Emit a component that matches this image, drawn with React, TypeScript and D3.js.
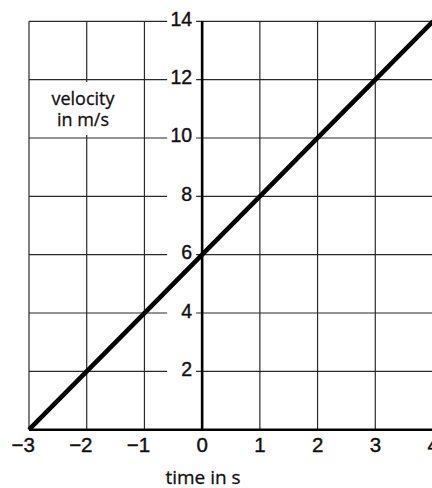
import React from "react";
import * as d3 from "d3";

// Velocity–time samples (straight line through the grid intersections)
const times: number[] = [-3, -2, -1, 0, 1, 2, 3, 4];
const velocities: number[] = [0, 2, 4, 6, 8, 10, 12, 14];

const xTicks: number[] = [-3, -2, -1, 0, 1, 2, 3, 4];
const yTicks: number[] = [2, 4, 6, 8, 10, 12, 14];

const xLabel = "time in s";
const yLabelLines: string[] = ["velocity", "in m/s"];

const W = 432;
const H = 488;

const numFont = "'Liberation Sans', Arial, Helvetica, sans-serif";
const textFont = "'Open Sans', 'Noto Sans', sans-serif";

export default function App() {
  const x = d3.scaleLinear().domain([-3, 4]).range([29, 433]);
  const y = d3.scaleLinear().domain([0, 14]).range([429.7, 21.3]);

  const line = d3
    .line<number>()
    .x((_, i) => x(times[i]))
    .y((d) => y(d));

  const gridColor = "#2a2a2a";
  const x0 = x(0);
  const y0 = y(0);
  const yTop = y(14);
  const xLeft = x(-3);
  const xRight = x(4);

  const fmt = (v: number) => (v < 0 ? "\u2212" + Math.abs(v) : String(v));

  return (
    <div style={{ position: "absolute", left: 0, top: 0 }}>
      <svg width={W} height={H} viewBox={`0 0 ${W} ${H}`} style={{ display: "block", background: "#fff" }}>
        {/* vertical grid lines */}
        {xTicks
          .filter((t) => t !== 0)
          .map((t) => (
            <line
              key={"vx" + t}
              x1={x(t)}
              x2={x(t)}
              y1={y0}
              y2={yTop}
              stroke={gridColor}
              strokeWidth={1.2}
            />
          ))}
        {/* horizontal grid lines */}
        {yTicks.map((v) => (
          <line
            key={"hy" + v}
            x1={xLeft}
            x2={xRight}
            y1={y(v)}
            y2={y(v)}
            stroke={gridColor}
            strokeWidth={1.2}
          />
        ))}

        {/* axis title block on the left */}
        <rect x={47} y={82} width={72} height={53} fill="#fff" />
        {yLabelLines.map((s, i) => (
          <text
            key={s}
            x={83}
            y={105 + i * 21}
            textAnchor="middle"
            fontFamily={textFont}
            fontSize={18}
            fill="#111"
            stroke="#111"
            strokeWidth={0.3}
          >
            {s}
          </text>
        ))}

        {/* y tick labels with white backing */}
        {yTicks.map((v) => (
          <g key={"yl" + v}>
            <rect x={x0 - 35} y={y(v) - 9} width={29} height={18} fill="#fff" />
            <text
              x={x0 - 10}
              y={y(v) + 4.5}
              textAnchor="end"
              fontFamily={numFont}
              fontSize={19.5}
              fill="#111"
              stroke="#111"
              strokeWidth={0.4}
            >
              {v}
            </text>
          </g>
        ))}

        {/* axes */}
        <line x1={x0} x2={x0} y1={y0} y2={yTop} stroke="#000" strokeWidth={2.6} />
        <line x1={xLeft} x2={xRight} y1={y0} y2={y0} stroke="#000" strokeWidth={2.4} />

        {/* x tick labels */}
        {xTicks.map((t) => (
          <text
            key={"xl" + t}
            x={x(t) + 5.8}
            y={452}
            textAnchor="end"
            fontFamily={numFont}
            fontSize={20.5}
            fill="#111"
            stroke="#111"
            strokeWidth={0.4}
          >
            {fmt(t)}
          </text>
        ))}

        <text
          x={203}
          y={484}
          textAnchor="middle"
          fontFamily={textFont}
          fontSize={19}
          fill="#111"
          stroke="#111"
          strokeWidth={0.3}
        >
          {xLabel}
        </text>

        {/* velocity line */}
        <path
          d={line(velocities) || ""}
          fill="none"
          stroke="#000"
          strokeWidth={4.6}
          strokeLinecap="butt"
        />
      </svg>
    </div>
  );
}
